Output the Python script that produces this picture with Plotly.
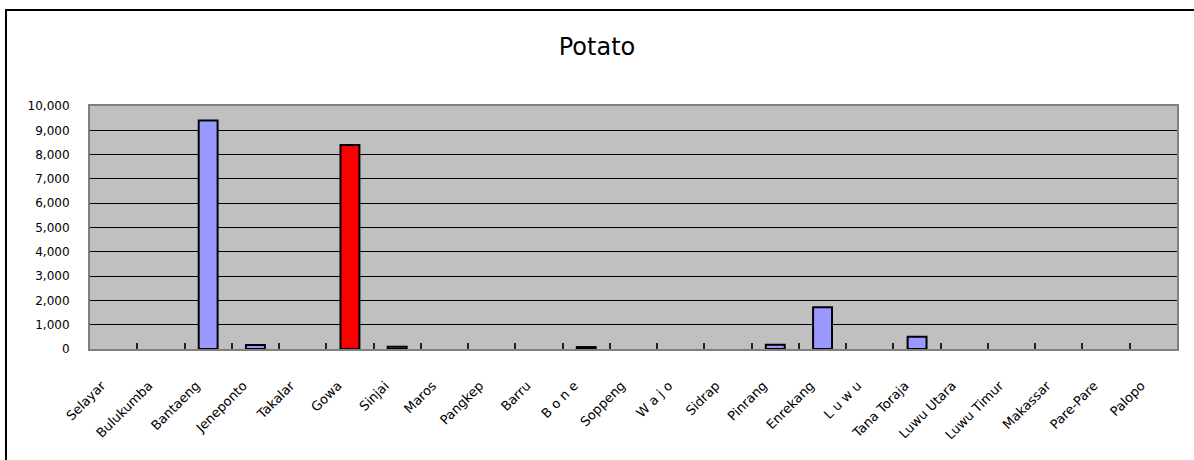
import plotly.graph_objects as go

regions = ["Selayar", "Bulukumba", "Bantaeng", "Jeneponto", "Takalar", "Gowa", "Sinjai",
           "Maros", "Pangkep", "Barru", "B o n e", "Soppeng", "W a j o", "Sidrap", "Pinrang",
           "Enrekang", "L u w u", "Tana Toraja", "Luwu Utara", "Luwu Timur", "Makassar",
           "Pare-Pare", "Palopo"]
potato = [0, 0, 9400, 165, 0, 8400, 90, 0, 0, 0, 80, 0, 0, 0, 170, 1720, 0, 500, 0, 0, 0, 0, 0]
highlight = "Gowa"
y_ticks = [0, 1000, 2000, 3000, 4000, 5000, 6000, 7000, 8000, 9000, 10000]
y_labels = ["0", "1,000", "2,000", "3,000", "4,000", "5,000", "6,000", "7,000", "8,000", "9,000", "10,000"]

colors = ["#FF0000" if r == highlight else "#9999FF" for r in regions]
bar_vals = [v if v > 0 else None for v in potato]

fig = go.Figure()
fig.add_trace(go.Bar(
    x=regions, y=bar_vals,
    marker=dict(color=colors, line=dict(color="#000000", width=2)),
    showlegend=False,
))

L, R, T, B = 90, 17, 106, 111
W, H = 1194, 460
pw = W - L - R
ph = H - T - B

fig.update_layout(
    width=W, height=H,
    margin=dict(l=L, r=R, t=T, b=B, pad=0),
    paper_bgcolor="#FFFFFF",
    plot_bgcolor="#C0C0C0",
    bargap=0.6,
    font=dict(family="DejaVu Sans", size=11, color="#000000"),
    title=dict(text="Potato", x=0.5, xanchor="center", y=1 - 47 / H, yanchor="middle",
               font=dict(family="DejaVu Sans", size=24, color="#000000")),
    xaxis=dict(
        type="category",
        tickson="boundaries",
        ticks="inside", ticklen=6, tickcolor="#222222", tickwidth=1.5,
        tickangle=-45,
        tickfont=dict(family="DejaVu Sans", size=13),
        ticklabelstandoff=22, ticklabelshift=-12,
        showgrid=False,
        showline=True, linecolor="#808080", linewidth=2, mirror=True,
        range=[-0.5, len(regions) - 0.5],
        layer="above traces",
    ),
    yaxis=dict(
        range=[0, 10000],
        tickvals=y_ticks, ticktext=y_labels,
        tickfont=dict(family="DejaVu Sans", size=12),
        showgrid=True, gridcolor="#000000", gridwidth=1,
        showline=True, linecolor="#808080", linewidth=2, mirror=True,
        zeroline=False,
        ticks="", ticklabelstandoff=16,
    ),
    shapes=[dict(
        type="rect", xref="paper", yref="paper",
        x0=(6 - L) / pw, x1=(1200 - L) / pw,
        y0=(H - B - 470) / ph,
        y1=(H - B - 10) / ph,
        line=dict(color="#000000", width=2), fillcolor="rgba(0,0,0,0)", layer="above",
    )],
)

fig.write_html("out.html")
